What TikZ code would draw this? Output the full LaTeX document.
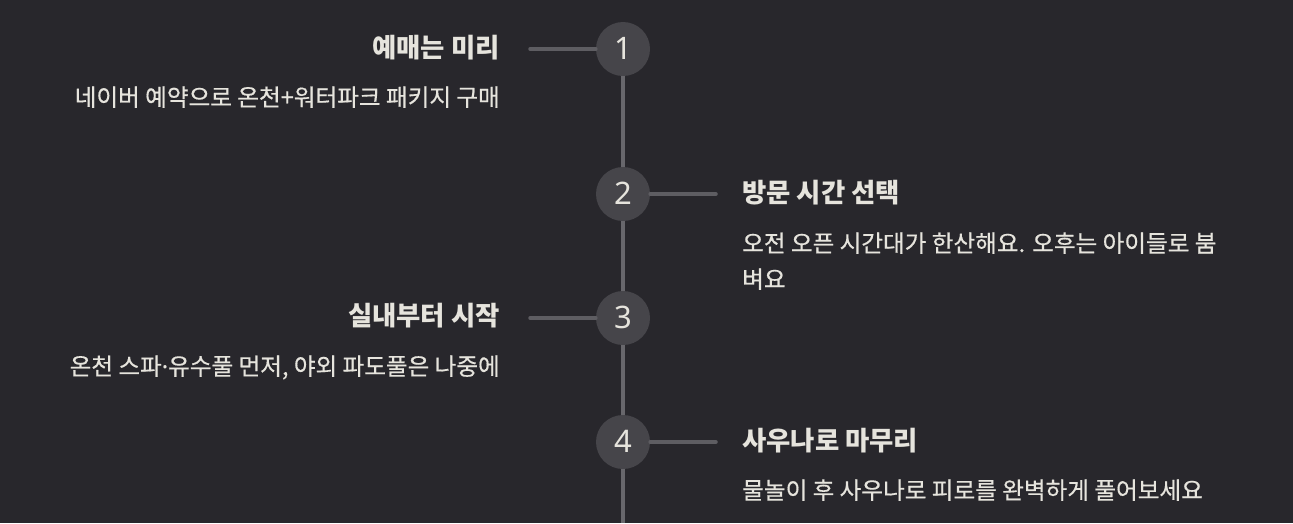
\documentclass[tikz,border=0pt]{standalone}
\usepackage{fontspec}
\newfontfamily\kr{Noto Sans CJK KR}
\newfontfamily\krm[FakeBold=0.5]{Noto Sans CJK KR}
\newfontfamily\numfont{Noto Sans}
\newfontfamily\dotfont[FakeBold=0.5]{Noto Sans}
\definecolor{bgc}{HTML}{28272C}
\definecolor{circc}{HTML}{46454A}
\definecolor{vlinec}{HTML}{68676C}
\definecolor{hlinec}{HTML}{5E5D62}
\definecolor{txtc}{HTML}{E6E4DD}
\begin{document}
\begin{tikzpicture}[x=1pt,y=-1pt,
  stepcircle/.style={circle,fill=circc,draw=none,minimum size=54pt,inner sep=0pt,
    text=txtc,font=\numfont\fontsize{31}{31}\selectfont},
  spine/.style={draw=vlinec,line width=4pt},
  branch/.style={draw=hlinec,line width=3.5pt,line cap=round},
  ttl/.style={inner sep=0pt,text=txtc,font=\kr\bfseries\fontsize{26.4}{30}\selectfont},
  dsc/.style={inner sep=0pt,text=txtc,font=\krm\fontsize{23.6}{36}\selectfont}]
\fill[bgc] (0,0) rectangle (1293,523);
\useasboundingbox (0,0) rectangle (1293,523);
% circles
\node[stepcircle] (c1) at (623,49) {\raisebox{1.5pt}{1}};
\node[stepcircle] (c2) at (623,194) {\raisebox{1.5pt}{2}};
\node[stepcircle] (c3) at (623,318) {\raisebox{1.5pt}{3}};
\node[stepcircle] (c4) at (623,442) {\raisebox{1.5pt}{4}};
\coordinate (bot) at (623,523);
\coordinate (b1) at (530,49);
\coordinate (b2) at (716,194);
\coordinate (b3) at (530,318);
\coordinate (b4) at (716,442);
% spine
\draw[spine] (c1) -- (c2);
\draw[spine] (c2) -- (c3);
\draw[spine] (c3) -- (c4);
\draw[spine] (c4) -- (bot);
% branches
\draw[branch] (b1) -- (c1.west);
\draw[branch] (c2.east) -- (b2);
\draw[branch] (b3) -- (c3.west);
\draw[branch] (c4.east) -- (b4);
% texts
\node[ttl,anchor=base east] (t1) at (500,57) {예매는 미리};
\node[dsc,anchor=base east] (d1) at (500,106) {네이버 예약으로 온천+워터파크 패키지 구매};
\node[ttl,anchor=base west] (t2) at (742,202) {방문 시간 선택};
\node[dsc,anchor=base west] (d2) at (742,252) {\vtop{\hbox{오전 오픈 시간대가 한산해요. 오후는 아이들로 붐}\hbox{벼요}}};
\node[ttl,anchor=base east] (t3) at (500,325) {실내부터 시작};
\node[dsc,anchor=base east] (d3) at (500,375) {온천 스파{\dotfont ·}유수풀 먼저, 야외 파도풀은 나중에};
\node[ttl,anchor=base west] (t4) at (742,450) {사우나로 마무리};
\node[dsc,anchor=base west] (d4) at (742,499) {물놀이 후 사우나로 피로를 완벽하게 풀어보세요};
\end{tikzpicture}
\end{document}
